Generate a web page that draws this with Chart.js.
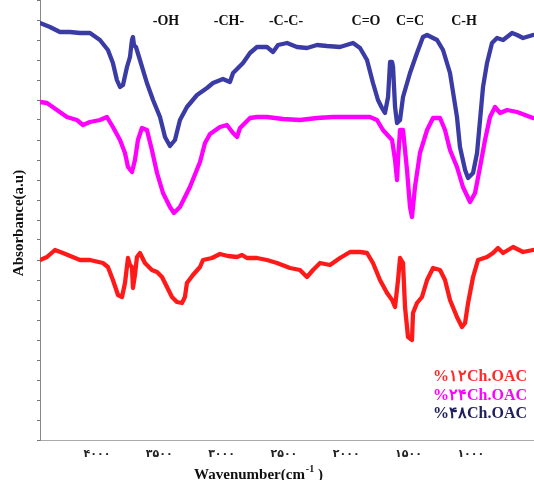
<!DOCTYPE html>
<html><head><meta charset="utf-8">
<script src="https://cdn.jsdelivr.net/npm/chart.js@4.4.1/dist/chart.umd.min.js"></script>
<style>html,body{margin:0;padding:0;background:#fff;}#wrap{width:534px;height:480px;}</style>
</head><body><div id="wrap"><canvas id="c" width="534" height="480"></canvas></div>
<script>
const seriesNames = ['%۱۲Ch.OAC', '%۲۴Ch.OAC', '%۴۸Ch.OAC'];
const tickValues = [4000, 3500, 3000, 2500, 2000, 1500, 1000];
const tickLabels = ['۴۰۰۰', '۳۵۰۰', '۳۰۰۰', '۲۵۰۰', '۲۰۰۰', '۱۵۰۰', '۱۰۰۰'];
const bandLabels = ['-OH', '-CH-', '-C-C-', 'C=O', 'C=C', 'C-H'];
const bandWavenumbers = [3446, 2941, 2483, 1841, 1488, 1054];

const redWn = [4457,4401,4337,4273,4136,4056,3952,3912,3872,3831,3799,3775,3751,3735,3719,3711,3695,3679,3655,3615,3559,3518,3478,3438,3398,3358,3318,3294,3278,3230,3173,3149,3077,3013,2949,2876,2836,2796,2716,2636,2555,2451,2371,2315,2266,2210,2130,2050,1969,1889,1833,1785,1729,1672,1632,1608,1584,1568,1544,1528,1504,1472,1464,1432,1392,1351,1303,1247,1207,1167,1111,1071,1046,1022,982,942,870,822,782,741,661,581,501];
const redAbs = [1.80,1.83,1.90,1.87,1.80,1.80,1.77,1.73,1.60,1.45,1.43,1.57,1.82,1.75,1.73,1.52,1.65,1.83,1.87,1.77,1.70,1.68,1.63,1.53,1.43,1.38,1.37,1.43,1.57,1.65,1.73,1.80,1.82,1.86,1.84,1.83,1.85,1.82,1.82,1.80,1.77,1.72,1.70,1.63,1.70,1.77,1.75,1.82,1.88,1.88,1.87,1.77,1.60,1.47,1.40,1.33,1.60,1.82,1.77,1.33,1.03,1.00,1.27,1.37,1.43,1.60,1.72,1.70,1.60,1.40,1.23,1.13,1.17,1.37,1.63,1.80,1.83,1.87,1.92,1.87,1.93,1.88,1.90];

const magentaWn = [4457,4401,4321,4241,4161,4112,4056,3976,3920,3872,3815,3775,3751,3719,3695,3671,3639,3599,3559,3518,3470,3414,3382,3334,3254,3173,3133,3093,3013,2957,2908,2876,2852,2772,2716,2636,2507,2371,2234,2106,1969,1809,1753,1705,1632,1608,1592,1584,1568,1544,1512,1488,1472,1448,1408,1351,1303,1247,1207,1167,1111,1063,1006,966,926,886,846,806,765,709,629,565,501];
const magentaAbs = [3.38,3.37,3.30,3.23,3.20,3.15,3.18,3.20,3.23,3.13,3.00,2.87,2.73,2.68,2.80,3.00,3.12,3.10,2.90,2.67,2.47,2.33,2.27,2.33,2.53,2.78,2.97,3.06,3.13,3.15,3.07,3.03,3.12,3.22,3.23,3.23,3.21,3.20,3.22,3.23,3.23,3.23,3.20,3.10,3.00,2.80,2.60,2.80,3.10,3.10,2.70,2.33,2.23,2.53,2.87,3.10,3.22,3.22,3.10,2.90,2.73,2.53,2.38,2.47,2.73,3.00,3.23,3.33,3.27,3.30,3.28,3.25,3.22];

const blueWn = [4457,4377,4297,4217,4136,4056,3976,3912,3872,3840,3815,3791,3759,3735,3719,3711,3703,3687,3655,3599,3550,3494,3454,3414,3374,3334,3278,3197,3117,3069,2989,2933,2908,2828,2772,2716,2636,2587,2547,2475,2395,2315,2234,2154,2050,1945,1889,1833,1785,1745,1713,1689,1664,1648,1632,1624,1608,1592,1568,1544,1488,1432,1384,1351,1271,1223,1167,1111,1087,1046,1022,982,950,926,902,870,830,790,741,669,629,581,501];
const blueAbs = [4.17,4.13,4.08,4.08,4.07,4.07,4.00,3.90,3.77,3.60,3.53,3.55,3.73,3.83,4.00,4.03,3.95,3.93,3.80,3.57,3.40,3.23,3.03,2.94,3.00,3.20,3.33,3.45,3.52,3.57,3.61,3.58,3.67,3.77,3.87,3.93,3.93,3.88,3.95,3.97,3.93,3.92,3.95,3.94,3.93,3.97,3.92,3.80,3.57,3.40,3.32,3.27,3.43,3.78,3.78,3.73,3.33,3.17,3.20,3.43,3.67,3.87,4.03,4.05,4.00,3.90,3.67,3.23,2.93,2.70,2.62,2.67,2.87,3.20,3.53,3.77,3.97,4.02,4.00,4.07,4.05,4.02,4.05];

const lineColors = ['#ff1a1a', '#ff00ff', '#3b3ba6'];
const legendColors = ['#ff2a2a', '#ff00ff', '#1f1f5c'];

function pts(wn, ab) { return wn.map((w, i) => ({ x: w, y: ab[i] })); }

const SERIF = "'Liberation Serif', 'Times New Roman', 'DejaVu Serif', serif";

const overlay = {
  id: 'overlay',
  afterDraw(chart) {
    const ctx = chart.ctx;
    const xs = chart.scales.x;
    ctx.save();
    ctx.fillStyle = '#111';
    ctx.font = 'bold 14px ' + SERIF;
    ctx.textAlign = 'center';
    ctx.textBaseline = 'middle';
    bandLabels.forEach((t, i) => ctx.fillText(t, xs.getPixelForValue(bandWavenumbers[i]), 21));
    ctx.font = 'bold 16px ' + SERIF;
    ctx.textAlign = 'right';
    seriesNames.forEach((t, i) => {
      ctx.fillStyle = legendColors[i];
      ctx.fillText(t, 527, 377 + i * 18.5);
    });
    ctx.fillStyle = '#111';
    ctx.font = 'bold 15px ' + SERIF;
    ctx.translate(19, 223);
    ctx.rotate(-Math.PI / 2);
    ctx.textAlign = 'center';
    ctx.fillText('Absorbance(a.u)', 0, 0);
    ctx.restore();
    ctx.save();
    ctx.fillStyle = '#111';
    ctx.textBaseline = 'alphabetic';
    ctx.textAlign = 'left';
    const f1 = 'bold 15px ' + SERIF, f2 = 'bold 10px ' + SERIF;
    ctx.font = f1; const w1 = ctx.measureText('Wavenumber(cm').width;
    ctx.font = f2; const w2 = ctx.measureText('-1').width;
    ctx.font = f1; const w3 = ctx.measureText(' )').width;
    const x0 = 258 - (w1 + w2 + w3) / 2;
    const base = 479;
    ctx.font = f1; ctx.fillText('Wavenumber(cm', x0, base);
    ctx.font = f2; ctx.fillText('-1', x0 + w1 + 1, base - 7);
    ctx.font = f1; ctx.fillText(' )', x0 + w1 + w2 + 1, base);
    ctx.restore();
  }
};

new Chart(document.getElementById('c'), {
  type: 'line',
  data: {
    datasets: [
      { label: seriesNames[0], data: pts(redWn, redAbs), borderColor: lineColors[0] },
      { label: seriesNames[1], data: pts(magentaWn, magentaAbs), borderColor: lineColors[1] },
      { label: seriesNames[2], data: pts(blueWn, blueAbs), borderColor: lineColors[2] }
    ]
  },
  options: {
    responsive: false,
    animation: false,
    devicePixelRatio: 1,
    layout: { padding: 0 },
    elements: {
      line: { borderWidth: 4.3, tension: 0, borderJoinStyle: 'round', borderCapStyle: 'round', fill: false },
      point: { radius: 0, hoverRadius: 0 }
    },
    plugins: { legend: { display: false }, tooltip: { enabled: false } },
    scales: {
      x: {
        type: 'linear',
        reverse: true,
        min: 493,
        max: 4457,
        afterBuildTicks(s) { s.ticks = tickValues.map(v => ({ value: v })); },
        afterFit(s) { s.height = 40; },
        ticks: {
          autoSkip: false,
          maxRotation: 0,
          padding: 5,
          color: '#222',
          font: { family: "'DejaVu Sans', sans-serif", size: 11, weight: 'bold' },
          callback(v) { const i = tickValues.indexOf(v); return i >= 0 ? tickLabels[i] : ''; }
        },
        grid: { drawOnChartArea: false, tickLength: 3, color: 'rgba(0,0,0,0)' },
        border: { display: true, color: '#aaa', width: 1 }
      },
      y: {
        min: 0,
        max: 4.4,
        afterFit(s) { s.width = 40; },
        ticks: { display: false, stepSize: 0.2 },
        grid: { drawOnChartArea: false, tickLength: 3, color: '#777' },
        border: { display: true, color: '#888', width: 1 }
      }
    }
  },
  plugins: [overlay]
});
</script>
</body></html>
